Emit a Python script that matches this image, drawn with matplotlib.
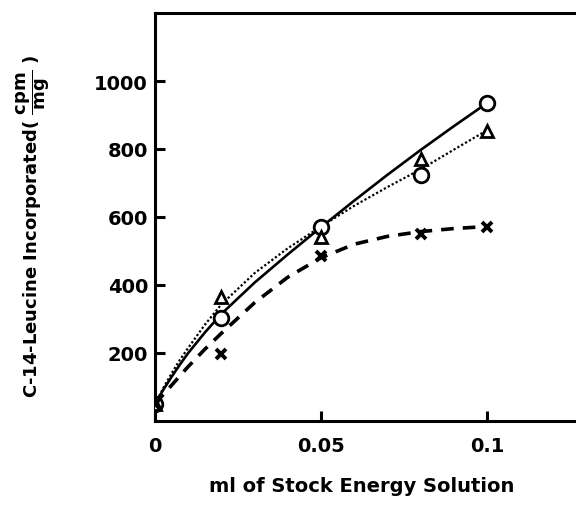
import matplotlib
matplotlib.use("Agg")
import matplotlib.pyplot as plt

# Measured data points
x_pts = [0, 0.02, 0.05, 0.08, 0.1]
circle_vals = [50, 303, 570, 723, 935]
triangle_vals = [50, 365, 541, 770, 853]
cross_vals = [50, 197, 485, 550, 571]

# Hand-drawn curves
curve_x = [0, 0.0025, 0.005, 0.0075, 0.01, 0.015, 0.02, 0.03, 0.04, 0.05, 0.06, 0.07, 0.08, 0.09, 0.1]
solid_curve = [50, 92, 130, 166, 200, 260, 315, 407, 490, 570, 648, 724, 797, 867, 935]
dotted_curve = [50, 97, 140, 180, 215, 283, 343, 435, 508, 572, 633, 688, 740, 798, 855]
dashed_curve = [50, 78, 105, 133, 160, 211, 258, 348, 423, 480, 520, 543, 557, 566, 572]

xticks = [0, 0.05, 0.1]
xtick_labels = ["0", "0.05", "0.1"]
yticks = [200, 400, 600, 800, 1000]
ytick_labels = ["200", "400", "600", "800", "1000"]

W, H = 576, 506
fig = plt.figure(figsize=(W / 100, H / 100), dpi=100)
left, right, top, bottom = 155, 600, 14, 422
ax = fig.add_axes([left / W, 1 - bottom / H, (right - left) / W, (bottom - top) / H])

ax.plot(curve_x, solid_curve, color="black", lw=1.9, ls="-", zorder=2)
ax.plot(curve_x, dotted_curve, color="black", lw=1.6, ls=(0, (1, 1)), zorder=2)
ax.plot(curve_x, dashed_curve, color="black", lw=2.6, ls=(0, (3.5, 2.5)), zorder=2)

ax.plot(x_pts, circle_vals, ls="none", marker="o", ms=10.5, mfc="white", mec="black", mew=2.0, zorder=3)
ax.plot(x_pts, triangle_vals, ls="none", marker="^", ms=8, mfc="white", mec="black", mew=2.0, zorder=3)
ax.plot(x_pts, cross_vals, ls="none", marker="x", ms=7.5, mec="black", mew=2.8, zorder=3)

ax.set_xlim(0, (right - left) / 3320)
ax.set_ylim(0, 1200)

for s in ["left", "bottom", "top"]:
    ax.spines[s].set_linewidth(2.2)
ax.spines["right"].set_visible(False)

ax.set_xticks(xticks)
ax.set_xticklabels(xtick_labels, fontsize=14, fontweight="bold")
ax.set_yticks(yticks)
ax.set_yticklabels(ytick_labels, fontsize=14, fontweight="bold")
ax.tick_params(axis="both", direction="in", length=7, width=2.2)
ax.tick_params(axis="y", pad=5)
ax.tick_params(axis="x", pad=11)

fig.text(362 / W, 1 - 487 / H, "ml of Stock Energy Solution", ha="center", va="center",
         fontsize=14, fontweight="bold")
fig.text(33 / W, 1 - 226 / H,
         r"C-14-Leucine Incorporated( $\dfrac{\mathbf{cpm}}{\mathbf{mg}}$ )",
         rotation=90, ha="center", va="center", fontsize=13, fontweight="bold")

fig.savefig("out.png", dpi=100)
